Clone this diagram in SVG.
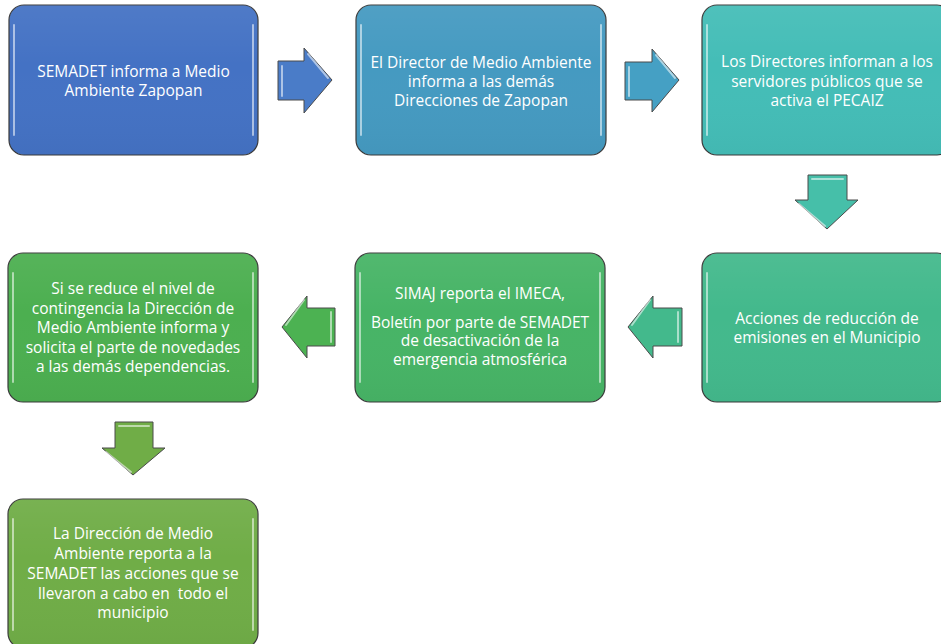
<svg xmlns="http://www.w3.org/2000/svg" width="941" height="644" viewBox="0 0 941 644">
<style>
.box{stroke:#3a3a3a;stroke-width:1.2}
.hl{stroke:#ffffff;stroke-opacity:0.55;stroke-width:2;fill:none;stroke-linecap:round}
.arr{stroke:#4a4a4a;stroke-width:1}
.t{font-family:"Open Sans","Liberation Sans",Arial,sans-serif;font-size:15.5px;fill:#ffffff;text-anchor:middle}
</style>
<defs>
<linearGradient id="sheen" x1="0" y1="0" x2="0" y2="1">
<stop offset="0" stop-color="#ffffff" stop-opacity="0.06"/>
<stop offset="0.4" stop-color="#ffffff" stop-opacity="0"/>
<stop offset="1" stop-color="#000000" stop-opacity="0.03"/>
</linearGradient>
</defs>
<rect width="941" height="644" fill="#ffffff"/>
<g id="connectors">
<polygon class="arr" fill="#4a7cc8" points="278,61 304,61 304,48 332,80 304,113 304,100 278,100"/>
<polygon class="arr" fill="#45a0c4" points="625,62 652,62 652,49 679,80 652,112 652,100 625,100"/>
<polygon class="arr" fill="#46bfa9" points="808,175 847,175 847,200 858,200 827,229 795,200 808,200"/>
<polygon class="arr" fill="#43b98c" points="682,308 653,308 653,296 628,327 653,358 653,346 682,346"/>
<polygon class="arr" fill="#4cb252" points="335,308 307,308 307,296 282,327 307,358 307,346 335,346"/>
<polygon class="arr" fill="#70ad47" points="115,422 153,422 153,448 165,448 133,475 102,448 115,448"/>
<g class="hl">
<path d="M282,66 L282,96"/><path d="M308,54 L328,78"/>
<path d="M629,67 L629,96"/><path d="M656,55 L675,78"/>
<path d="M812,179 L843,179"/><path d="M799,204 L825,226"/>
<path d="M678,312 L678,342"/><path d="M650,300 L632,325"/>
<path d="M331,312 L331,342"/><path d="M304,300 L286,325"/>
<path d="M119,426 L149,426"/><path d="M106,452 L131,472"/>
</g>
</g>
<g id="n1">
<rect class="box" x="9" y="5" width="249" height="150" rx="15" fill="#4472c4"/>
<rect x="9" y="5" width="249" height="150" rx="15" fill="url(#sheen)"/>
<path class="hl" d="M14,25 V135 M253,25 V135"/>
<text class="t" x="133.5" y="77">SEMADET informa a Medio</text>
<text class="t" x="133.5" y="96">Ambiente Zapopan</text>
</g>
<g id="n2">
<rect class="box" x="356" y="5" width="250" height="150" rx="15" fill="#459ac1"/>
<rect x="356" y="5" width="250" height="150" rx="15" fill="url(#sheen)"/>
<path class="hl" d="M361,25 V135 M601,25 V135"/>
<text class="t" x="481" y="68">El Director de Medio Ambiente</text>
<text class="t" x="481" y="87">informa a las demás</text>
<text class="t" x="481" y="106">Direcciones de Zapopan</text>
</g>
<g id="n3">
<rect class="box" x="702" y="5" width="250" height="150" rx="15" fill="#44bdb7"/>
<rect x="702" y="5" width="250" height="150" rx="15" fill="url(#sheen)"/>
<path class="hl" d="M707,25 V135"/>
<text class="t" x="827" y="67">Los Directores informan a los</text>
<text class="t" x="827" y="87">servidores públicos que se</text>
<text class="t" x="827" y="106">activa el PECAIZ</text>
</g>
<g id="n4">
<rect class="box" x="702" y="253" width="250" height="149" rx="15" fill="#43b98c"/>
<rect x="702" y="253" width="250" height="149" rx="15" fill="url(#sheen)"/>
<path class="hl" d="M707,273 V382"/>
<text class="t" x="827" y="324">Acciones de reducción de</text>
<text class="t" x="827" y="343">emisiones en el Municipio</text>
</g>
<g id="n5">
<rect class="box" x="355" y="253" width="250" height="149" rx="15" fill="#47b466"/>
<rect x="355" y="253" width="250" height="149" rx="15" fill="url(#sheen)"/>
<path class="hl" d="M360,273 V382 M600,273 V382"/>
<text class="t" x="480" y="299">SIMAJ reporta el IMECA,</text>
<text class="t" x="480" y="328">Boletín por parte de SEMADET</text>
<text class="t" x="480" y="346">de desactivación de la</text>
<text class="t" x="480" y="365">emergencia atmosférica</text>
</g>
<g id="n6">
<rect class="box" x="8" y="253" width="250" height="149" rx="15" fill="#4caf50"/>
<rect x="8" y="253" width="250" height="149" rx="15" fill="url(#sheen)"/>
<path class="hl" d="M13,273 V382 M253,273 V382"/>
<text class="t" x="133" y="294">Si se reduce el nivel de</text>
<text class="t" x="133" y="314">contingencia la Dirección de</text>
<text class="t" x="133" y="333">Medio Ambiente informa y</text>
<text class="t" x="133" y="353">solicita el parte de novedades</text>
<text class="t" x="133" y="372">a las demás dependencias.</text>
</g>
<g id="n7">
<rect class="box" x="8" y="499" width="250" height="149" rx="15" fill="#70ad47"/>
<rect x="8" y="499" width="250" height="149" rx="15" fill="url(#sheen)"/>
<path class="hl" d="M13,519 V630 M253,519 V630"/>
<text class="t" x="133" y="539">La Dirección de Medio</text>
<text class="t" x="133" y="559">Ambiente reporta a la</text>
<text class="t" x="133" y="579">SEMADET las acciones que se</text>
<text class="t" x="133" y="599" xml:space="preserve">llevaron a cabo en  todo el</text>
<text class="t" x="133" y="618">municipio</text>
</g>
</svg>
